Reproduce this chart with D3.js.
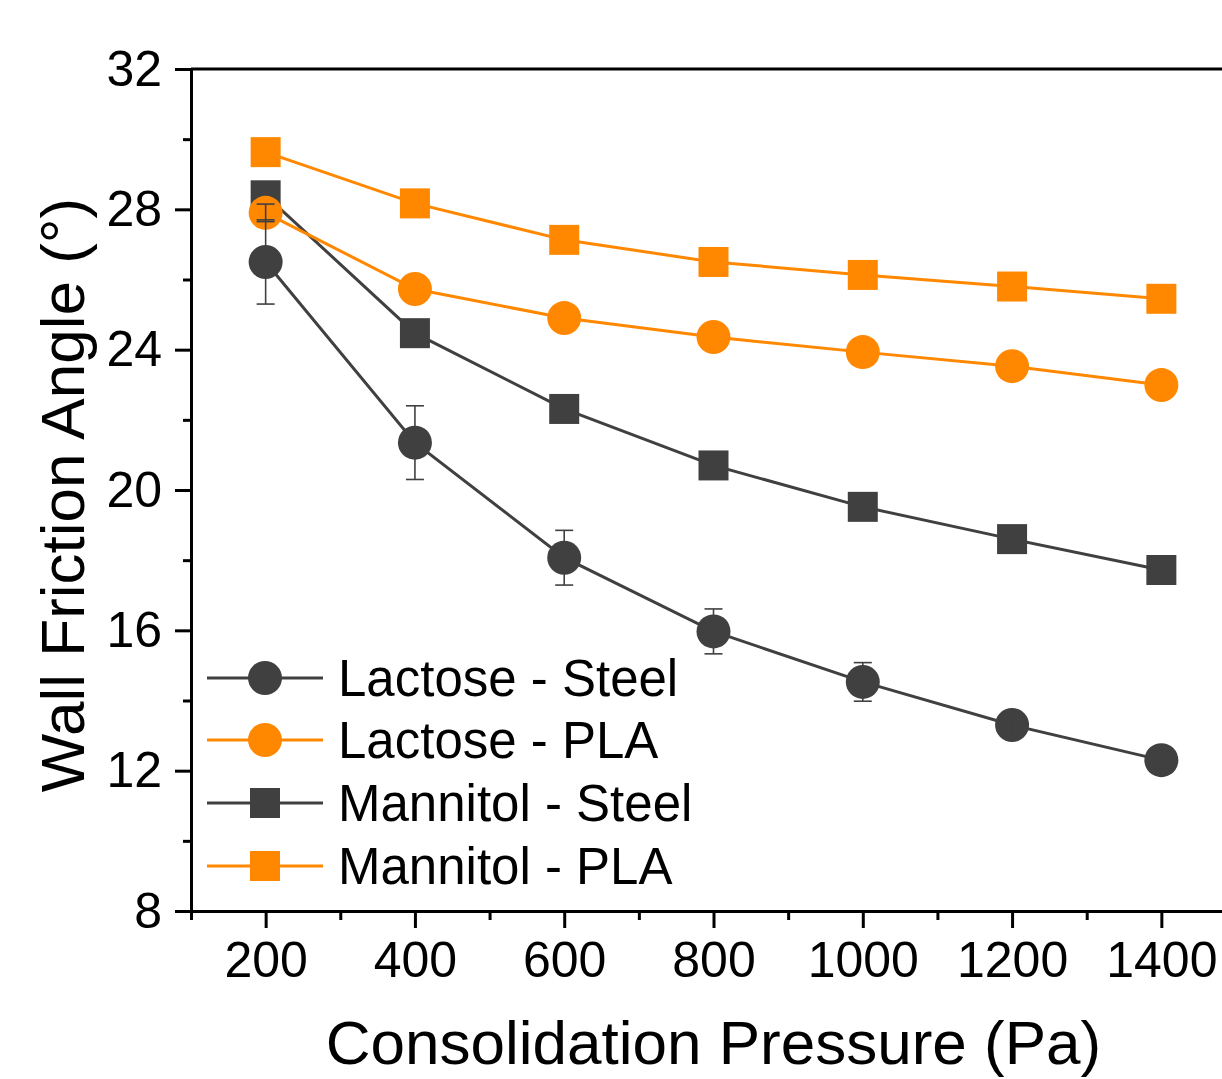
<!DOCTYPE html>
<html>
<head>
<meta charset="utf-8">
<script src="https://cdn.jsdelivr.net/npm/d3@7"></script>
<style>
  body { margin: 0; background: #fff; }
  svg { display: block; font-family: "Liberation Sans", Arial, sans-serif; }
  .axis text { font-size: 50px; fill: #000; }
  .axis path, .axis line { stroke: #000; stroke-width: 3; }
</style>
</head>
<body>
<div id="d3-container"></div>
<script>
/**
 * CONSTANTS AND GLOBALS
 * */
const width = 1222,
  height = 1079,
  margin = { top: 69, bottom: 168, left: 191, right: -14 };

// consolidation pressure (Pa)
const pressures = [200, 400, 600, 800, 1000, 1200, 1400];

// wall friction angle (°) for each series
const lactoseSteel = [26.5, 21.35, 18.07, 15.97, 14.53, 13.3, 12.3];
const lactoseSteelErr = [1.2, 1.05, 0.78, 0.64, 0.55, 0.3, 0.25];
const lactosePLA = [27.9, 25.73, 24.9, 24.36, 23.93, 23.53, 22.99];
const lactosePLAErr = [0.25, 0, 0, 0, 0, 0, 0];
const mannitolSteel = [28.4, 24.47, 22.31, 20.7, 19.52, 18.6, 17.72];
const mannitolPLA = [29.63, 28.17, 27.13, 26.5, 26.13, 25.8, 25.45];

const seriesNames = ["Lactose - Steel", "Lactose - PLA", "Mannitol - Steel", "Mannitol - PLA"];

const yTicks = [8, 12, 16, 20, 24, 28, 32];
const xTicks = [200, 400, 600, 800, 1000, 1200, 1400];

const gray = "#404040",
  orange = "#ff8800";

let series = [
  { name: seriesNames[0], values: lactoseSteel, err: lactoseSteelErr, color: gray, shape: "circle" },
  { name: seriesNames[1], values: lactosePLA, err: lactosePLAErr, color: orange, shape: "circle" },
  { name: seriesNames[2], values: mannitolSteel, err: null, color: gray, shape: "square" },
  { name: seriesNames[3], values: mannitolPLA, err: null, color: orange, shape: "square" },
];

// drawing order (lactose PLA sits on top of mannitol steel at 200 Pa)
const drawOrder = [2, 3, 0, 1];

const svg = d3
  .select("#d3-container")
  .append("svg")
  .attr("width", width)
  .attr("height", height);

// SCALES
const xScale = d3
  .scaleLinear()
  .domain([100, 1500])
  .range([margin.left, width - margin.right]);

const yScale = d3
  .scaleLinear()
  .domain([8, 32])
  .range([height - margin.bottom, margin.top]);

const xMinor = d3.range(100, 1600, 200);
const yMinor = d3.range(10, 32, 4);

// AXES - minor ticks first
svg.append("g")
  .attr("class", "axis")
  .attr("transform", `translate(0,${yScale(8)})`)
  .call(d3.axisBottom(xScale).tickValues(xMinor).tickSize(9).tickSizeOuter(0).tickFormat(""))
  .select(".domain").remove();

svg.append("g")
  .attr("class", "axis")
  .attr("transform", `translate(${margin.left},0)`)
  .call(d3.axisLeft(yScale).tickValues(yMinor).tickSize(8).tickSizeOuter(0).tickFormat(""))
  .select(".domain").remove();

// major ticks
svg.append("g")
  .attr("class", "axis x-axis")
  .attr("transform", `translate(0,${yScale(8)})`)
  .call(d3.axisBottom(xScale).tickValues(xTicks).tickSize(17).tickSizeOuter(0)
    .tickPadding(13).tickFormat(d3.format("d")));

svg.append("g")
  .attr("class", "axis y-axis")
  .attr("transform", `translate(${margin.left},0)`)
  .call(d3.axisLeft(yScale).tickValues(yTicks).tickSize(16).tickSizeOuter(0)
    .tickPadding(13).tickFormat(d3.format("d")));

// top frame line
svg.append("line")
  .attr("x1", xScale(100))
  .attr("x2", xScale(1500))
  .attr("y1", yScale(32))
  .attr("y2", yScale(32))
  .attr("stroke", "#000")
  .attr("stroke-width", 3);

// right frame line
svg.append("line")
  .attr("x1", xScale(1500))
  .attr("x2", xScale(1500))
  .attr("y1", yScale(32))
  .attr("y2", yScale(8))
  .attr("stroke", "#000")
  .attr("stroke-width", 3);

// axis titles
svg.append("text")
  .attr("x", (xScale(100) + xScale(1500)) / 2)
  .attr("y", 1064)
  .attr("text-anchor", "middle")
  .attr("font-size", 62)
  .text("Consolidation Pressure (Pa)");

svg.append("text")
  .attr("transform", `translate(84,${(yScale(8) + yScale(32)) / 2 + 5}) rotate(-90)`)
  .attr("text-anchor", "middle")
  .attr("font-size", 62)
  .text("Wall Friction Angle (°)");

// LINES AND MARKERS
const line = d3.line()
  .x((d, i) => xScale(pressures[i]))
  .y(d => yScale(d));

const squareSym = d3.symbol().type(d3.symbolSquare).size(900);

function drawMarker(g, s, cx, cy) {
  if (s.shape === "circle") {
    g.append("circle")
      .attr("cx", cx)
      .attr("cy", cy)
      .attr("r", 17)
      .attr("fill", s.color);
  } else {
    g.append("path")
      .attr("d", squareSym())
      .attr("transform", `translate(${cx},${cy})`)
      .attr("fill", s.color);
  }
}

drawOrder.forEach(k => {
  const s = series[k];
  const g = svg.append("g").attr("class", "series");
  g.append("path")
    .datum(s.values)
    .attr("d", line)
    .attr("fill", "none")
    .attr("stroke", s.color)
    .attr("stroke-width", 3);
  s.values.forEach((v, i) => drawMarker(g, s, xScale(pressures[i]), yScale(v)));
});

// error bars on top
series.forEach(s => {
  if (!s.err) return;
  s.values.forEach((v, i) => {
    const e = s.err[i];
    if (!e) return;
    const x = xScale(pressures[i]);
    const g = svg.append("g")
      .attr("stroke", gray)
      .attr("stroke-width", 1.6);
    g.append("line").attr("x1", x).attr("x2", x).attr("y1", yScale(v - e)).attr("y2", yScale(v + e));
    g.append("line").attr("x1", x - 9).attr("x2", x + 9).attr("y1", yScale(v - e)).attr("y2", yScale(v - e));
    g.append("line").attr("x1", x - 9).attr("x2", x + 9).attr("y1", yScale(v + e)).attr("y2", yScale(v + e));
  });
});

// LEGEND
const legendRows = [678, 740, 803, 866];
series.forEach((s, i) => {
  const g = svg.append("g").attr("class", "legend-item");
  const y = legendRows[i];
  g.append("line")
    .attr("x1", 207)
    .attr("x2", 323)
    .attr("y1", y)
    .attr("y2", y)
    .attr("stroke", s.color)
    .attr("stroke-width", 3);
  drawMarker(g, s, 265, y);
  g.append("text")
    .attr("x", 338)
    .attr("y", y + 18)
    .attr("font-size", 51)
    .text(s.name);
});
</script>
</body>
</html>
